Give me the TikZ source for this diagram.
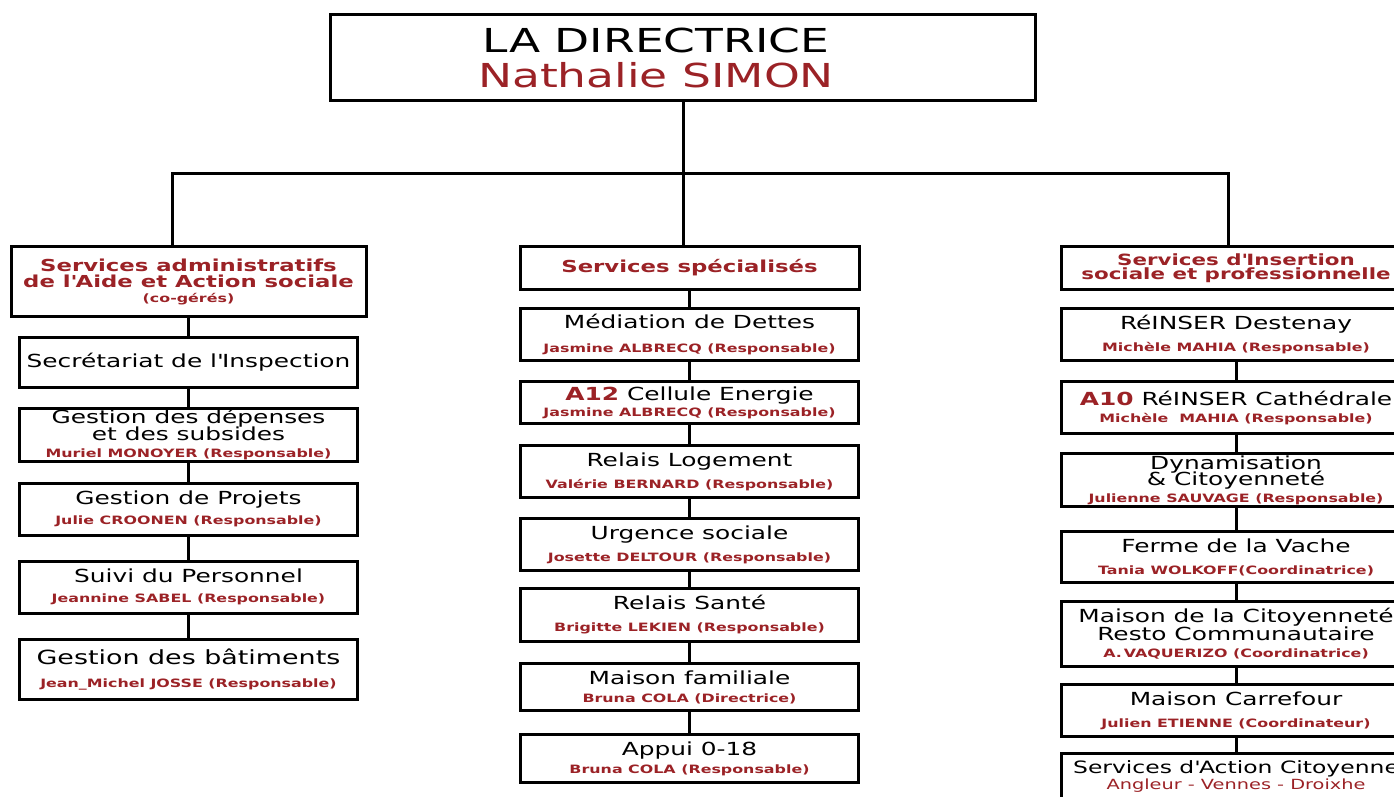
\documentclass[tikz,border=0pt]{standalone}
\usepackage{fontspec}
\setmainfont{DejaVu Sans}[FakeStretch=1.38]
\usetikzlibrary{positioning}
% dark red of names and service heads
\definecolor{darkred}{RGB}{155,34,38}
% name of the person in charge
\newcommand{\resp}[1]{{\color{darkred}\bfseries\fontsize{11.5}{13}\selectfont #1}}
% code of a service
\newcommand{\code}[1]{{\color{darkred}\bfseries #1}}
% straight apostrophe
\newcommand{\ap}{\textquotesingle}
\tikzset{
  unit/.style={draw, line width=3pt, align=center, inner sep=1pt,
    minimum width=338pt, minimum height=52pt, font=\fontsize{18}{20}\selectfont},
  head/.style={unit, font=\bfseries\fontsize{16.5}{18}\selectfont, text=darkred},
  link/.style={line width=3pt},
}

\begin{document}
\begin{tikzpicture}[x=1pt, y=-1pt]
  \useasboundingbox (0,0) rectangle (1394,796);

  % the head of the whole house
  \node[unit, minimum width=705pt, minimum height=86pt, font=\fontsize{33}{34}\selectfont]
    (dir) at (683,57.5) {LA DIRECTRICE\hspace*{54pt}\\[1pt]{\color{darkred}Nathalie SIMON}\hspace*{54pt}};

  % heads of the three branches
  \node[head, minimum width=355pt, minimum height=70pt] (adm) at (188.5,281.5)
    {Services administratifs\\[-2pt]de l\ap Aide et Action sociale\\[-3pt]{\fontsize{11.5}{13}\selectfont (co-gérés)}};
  \node[head, minimum width=339pt, minimum height=43pt] (spe) at (689.5,268) {Services spécialisés};
  \node[head, minimum width=350pt, minimum height=43pt, font=\bfseries\fontsize{15.5}{14}\selectfont]
    (ins) at (1236,268) {Services d\ap Insertion\\sociale et professionnelle};

  % left branch
  \node[unit, minimum height=50pt, below=18pt of adm] (sec) {Secrétariat de l\ap Inspection};
  \node[unit, below=18pt of sec] (dep) {Gestion des dépenses\\[-3pt]et des subsides\\[-3pt]\resp{Muriel MONOYER (Responsable)}};
  \node[unit, below=19pt of dep] (prj) {Gestion de Projets\\\resp{Julie CROONEN (Responsable)}};
  \node[unit, below=23pt of prj] (pers) {Suivi du Personnel\\\resp{Jeannine SABEL (Responsable)}};
  \node[unit, minimum height=60pt, below=23pt of pers, font=\fontsize{19.5}{21}\selectfont]
    (bat) {Gestion des bâtiments\\[2pt]\resp{Jean\_Michel JOSSE (Responsable)}};

  % middle branch
  \node[unit, below=16pt of spe] (med) {Médiation de Dettes\\[4pt]\resp{Jasmine ALBRECQ (Responsable)}};
  \node[unit, minimum height=42pt, below=18pt of med] (a12) {\code{A12} Cellule Energie\\[-4pt]\resp{Jasmine ALBRECQ (Responsable)}};
  \node[unit, below=19pt of a12] (log) {Relais Logement\\[2pt]\resp{Valérie BERNARD (Responsable)}};
  \node[unit, below=18pt of log] (urg) {Urgence sociale\\[2pt]\resp{Josette DELTOUR (Responsable)}};
  \node[unit, minimum height=53pt, below=15pt of urg] (san) {Relais Santé\\[2pt]\resp{Brigitte LEKIEN (Responsable)}};
  \node[unit, minimum height=47pt, below=19pt of san] (fam) {Maison familiale\\[-2pt]\resp{Bruna COLA (Directrice)}};
  \node[unit, minimum height=48pt, below=21pt of fam] (app) {Appui 0-18\\[-2pt]\resp{Bruna COLA (Responsable)}};

  % right branch
  \node[unit, minimum width=350pt, below=16pt of ins] (des) {RéINSER Destenay\\[2pt]\resp{Michèle MAHIA (Responsable)}};
  \node[unit, minimum width=350pt, below=18pt of des] (a10) {\code{A10} RéINSER Cathédrale\\[-3pt]\resp{Michèle\ \ MAHIA (Responsable)}};
  \node[unit, minimum width=350pt, minimum height=53pt, below=17pt of a10]
    (dyn) {Dynamisation\\[-4pt]\&~Citoyenneté\\[-3pt]\resp{Julienne SAUVAGE (Responsable)}};
  \node[unit, minimum width=350pt, minimum height=51pt, below=22pt of dyn] (fer) {Ferme de la Vache\\[2pt]\resp{Tania WOLKOFF(Coordinatrice)}};
  \node[unit, minimum width=350pt, minimum height=65pt, below=16pt of fer]
    (cit) {Maison de la Citoyenneté\\[-2pt]Resto Communautaire\\[-3pt]\resp{A.\,VAQUERIZO (Coordinatrice)}};
  \node[unit, minimum width=350pt, below=15pt of cit] (car) {Maison Carrefour\\[2pt]\resp{Julien ETIENNE (Coordinateur)}};
  \node[unit, minimum width=350pt, minimum height=46pt, below=14pt of car, font=\fontsize{17}{19}\selectfont]
    (sac) {Services d\ap Action Citoyenne\\[-3pt]{\color{darkred}\fontsize{14}{16}\selectfont Angleur - Vennes - Droixhe}};

  % links from the head to the branches
  \coordinate (bus) at (689.5,173);
  \draw[link] (dir.south) -- (dir.south |- spe.north);
  \draw[link] ([xshift=-16pt]adm.north) |- (bus) -| ([xshift=-8pt]ins.north);

  % links inside the branches
  \foreach \a/\b in {adm/sec, sec/dep, dep/prj, prj/pers, pers/bat,
      spe/med, med/a12, a12/log, log/urg, urg/san, san/fam, fam/app,
      des/a10, a10/dyn, dyn/fer, fer/cit, cit/car, car/sac}
    \draw[link] (\a.south) -- (\b.north);
\end{tikzpicture}
\end{document}
